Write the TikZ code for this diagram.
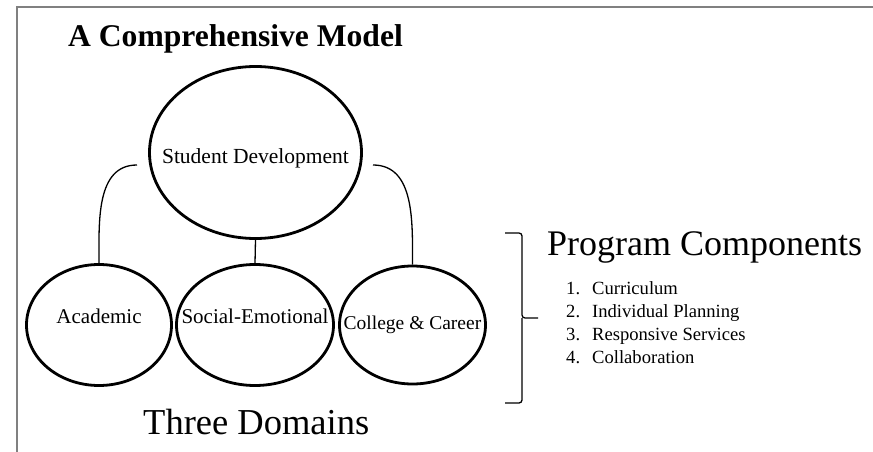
\documentclass[tikz,border=0pt]{standalone}
\usepackage{fontspec}
\setmainfont{Liberation Serif}
\usetikzlibrary{shapes.geometric}

\tikzset{
  bubble/.style={draw, ellipse, line width=2.8pt, inner sep=0pt, minimum width=145pt, minimum height=121pt, text height=0pt, text depth=4pt, font=\fontsize{21}{24}\selectfont},
  link/.style={line width=1.3pt},
  frameline/.style={draw=gray, line width=1.5pt}
}

\begin{document}
\begin{tikzpicture}[x=1pt, y=-1pt]
\useasboundingbox (0,0) rectangle (873,452);
% slide frame
\draw[frameline] (17,452) -- (17,7) -- (873,7);

% Title
\node[anchor=base west, inner sep=0pt, font=\fontsize{31.6}{38}\selectfont\bfseries] (title) at (68,47) {A Comprehensive Model};

% Ellipses (text kept in zero-width boxes so it does not widen them)
\node[bubble, minimum width=212pt, minimum height=172pt, text height=21pt, text depth=0pt, font=\fontsize{21.5}{24}\selectfont] (SD) at (255.5,152.5) {\makebox[0pt]{Student Development}};
\node[bubble] (Acad) at (99,325) {\makebox[0pt]{Academic}};
\node[bubble, minimum width=157pt] (SocEmo) at (255,325) {\makebox[0pt]{Social-Emotional}};
\node[bubble, minimum width=146pt, minimum height=118pt, text height=8pt, text depth=0pt, font=\fontsize{19.5}{24}\selectfont] (Career) at (412.5,325) {\makebox[0pt]{College \& Career}};

% Connectors
\coordinate (SDleft) at (137,165);
\coordinate (SDright) at (373,165);
\draw[link] (SD.south) -- (SocEmo.north);
\draw[link] (SDleft) to[out=180, in=90] (Acad.north);
\draw[link] (SDright) to[out=0, in=90] (Career.north);

% Three Domains
\node[anchor=base west, inner sep=0pt, font=\fontsize{36.5}{40}\selectfont] (domains) at (143,434) {Three Domains};

% Brace
\draw[link, rounded corners=3pt] (505,233) -- (522,233) -- (522,318) -- (538,318);
\draw[link, rounded corners=3pt] (522,318) -- (522,403) -- (505,403);

% Program Components
\node[anchor=base west, inner sep=0pt, font=\fontsize{36}{40}\selectfont] (components) at (547,255) {Program Components};
\node[anchor=north west, inner sep=0pt, align=left, font=\fontsize{18.6}{22.8}\selectfont] (steps) at (566,281.5) {
    \makebox[26pt][l]{1.}Curriculum\\
    \makebox[26pt][l]{2.}Individual Planning\\
    \makebox[26pt][l]{3.}Responsive Services\\
    \makebox[26pt][l]{4.}Collaboration
};

\end{tikzpicture}
\end{document}
